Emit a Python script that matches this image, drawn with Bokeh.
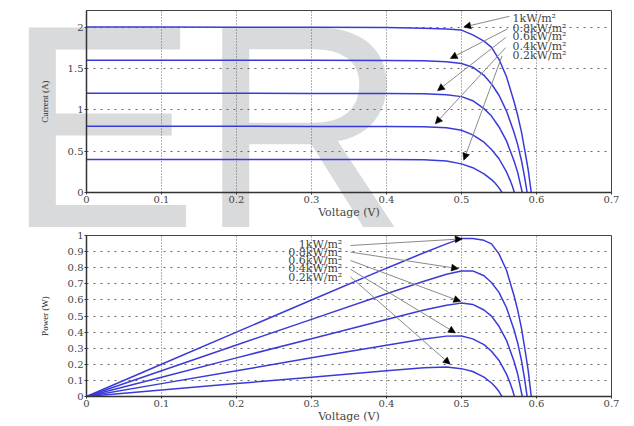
from bokeh.plotting import figure
from bokeh.layouts import column
from bokeh.models import Arrow, NormalHead, Label, FixedTicker, Range1d, Div, InlineStyleSheet
from bokeh.embed import file_html
from bokeh.resources import INLINE

# ---------------- data ----------------
irradiance_labels = ["1kW/m\u00b2", "0.8kW/m\u00b2", "0.6kW/m\u00b2", "0.4kW/m\u00b2", "0.2kW/m\u00b2"]

x_ticks = [0, 0.1, 0.2, 0.3, 0.4, 0.5, 0.6, 0.7]
current_ticks = [0, 0.5, 1, 1.5, 2]
power_ticks = [0, 0.1, 0.2, 0.3, 0.4, 0.5, 0.6, 0.7, 0.8, 0.9, 1]

v_1000 = [0, 0.1, 0.2, 0.3, 0.4, 0.45, 0.48, 0.5, 0.515, 0.53, 0.54, 0.55, 0.56, 0.57, 0.575, 0.58, 0.585, 0.589, 0.593]
i_1000 = [2.0, 2.0, 1.999, 1.997, 1.993, 1.985, 1.975, 1.963, 1.905, 1.83, 1.755, 1.61, 1.40, 1.10, 0.93, 0.73, 0.48, 0.27, 0.0]
p_1000 = [0, 0.2, 0.4, 0.599, 0.797, 0.893, 0.948, 0.982, 0.981, 0.970, 0.948, 0.886, 0.784, 0.627, 0.535, 0.423, 0.281, 0.159, 0.0]

v_800 = [0, 0.1, 0.2, 0.3, 0.4, 0.45, 0.48, 0.5, 0.515, 0.53, 0.54, 0.55, 0.56, 0.57, 0.575, 0.58, 0.584, 0.5875]
i_800 = [1.6, 1.6, 1.599, 1.598, 1.595, 1.592, 1.581, 1.56, 1.515, 1.416, 1.312, 1.176, 0.984, 0.728, 0.576, 0.384, 0.192, 0.0]
p_800 = [0, 0.16, 0.32, 0.479, 0.638, 0.716, 0.759, 0.78, 0.780, 0.750, 0.708, 0.647, 0.551, 0.415, 0.331, 0.223, 0.112, 0.0]

v_600 = [0, 0.1, 0.2, 0.3, 0.4, 0.45, 0.48, 0.5, 0.515, 0.53, 0.54, 0.55, 0.56, 0.57, 0.575, 0.578, 0.581]
i_600 = [1.2, 1.2, 1.199, 1.198, 1.196, 1.194, 1.182, 1.159, 1.11, 1.014, 0.924, 0.792, 0.624, 0.384, 0.24, 0.12, 0.0]
p_600 = [0, 0.12, 0.24, 0.359, 0.478, 0.537, 0.567, 0.58, 0.572, 0.537, 0.499, 0.436, 0.349, 0.219, 0.138, 0.069, 0.0]

v_400 = [0, 0.1, 0.2, 0.3, 0.4, 0.45, 0.48, 0.5, 0.515, 0.53, 0.54, 0.55, 0.56, 0.565, 0.568, 0.5705]
i_400 = [0.8, 0.8, 0.8, 0.799, 0.798, 0.794, 0.782, 0.752, 0.696, 0.608, 0.52, 0.408, 0.248, 0.144, 0.072, 0.0]
p_400 = [0, 0.08, 0.16, 0.24, 0.319, 0.357, 0.375, 0.376, 0.358, 0.322, 0.281, 0.224, 0.139, 0.081, 0.041, 0.0]

v_200 = [0, 0.1, 0.2, 0.3, 0.4, 0.45, 0.48, 0.5, 0.515, 0.53, 0.54, 0.545, 0.55, 0.552, 0.554]
i_200 = [0.4, 0.4, 0.4, 0.4, 0.399, 0.395, 0.382, 0.346, 0.3, 0.226, 0.156, 0.112, 0.056, 0.028, 0.0]
p_200 = [0, 0.04, 0.08, 0.12, 0.16, 0.178, 0.183, 0.173, 0.155, 0.12, 0.084, 0.061, 0.031, 0.015, 0.0]

volts = [v_1000, v_800, v_600, v_400, v_200]
currents = [i_1000, i_800, i_600, i_400, i_200]
powers = [p_1000, p_800, p_600, p_400, p_200]

# ---------------- styling ----------------
LINE = "#3a3ad8"
TXT = "#444444"
SERIF = "DejaVu Serif"


def style(p, yticks, overrides, ylabel):
    p.background_fill_alpha = 0
    p.border_fill_alpha = 0
    p.outline_line_color = "#444444"
    p.outline_line_width = 1
    for ax in (p.xaxis[0], p.yaxis[0]):
        ax.axis_line_color = "#333333"
        ax.axis_line_width = 1.5
        ax.major_tick_line_color = "#333333"
        ax.major_tick_out = 2
        ax.major_tick_in = 0
        ax.minor_tick_line_color = None
        ax.major_label_text_font = SERIF
        ax.major_label_text_font_size = "10px"
        ax.major_label_text_color = TXT
        ax.major_label_standoff = 1
    p.xaxis.ticker = FixedTicker(ticks=x_ticks)
    p.xaxis.major_label_overrides = {0: "0"}
    p.yaxis.ticker = FixedTicker(ticks=yticks)
    p.yaxis.major_label_overrides = overrides
    p.xaxis.axis_label = "Voltage (V)"
    p.xaxis.axis_label_text_font = SERIF
    p.xaxis.axis_label_text_font_size = "11px"
    p.xaxis.axis_label_text_font_style = "normal"
    p.xaxis.axis_label_text_color = TXT
    p.xaxis.axis_label_standoff = 0
    p.yaxis.axis_label = ylabel
    p.yaxis.axis_label_text_font = "Liberation Serif"
    p.yaxis.axis_label_text_font_size = "9px"
    p.yaxis.axis_label_text_font_style = "normal"
    p.yaxis.axis_label_text_color = "#222222"
    p.yaxis.axis_label_standoff = 15
    for g in (p.xgrid[0], p.ygrid[0]):
        g.grid_line_color = "#666666"
    p.xgrid.grid_line_dash = "1 2"
    p.ygrid.grid_line_dash = "2 5"


# ---------------- top: I-V ----------------
top = figure(width=634, height=226, x_range=Range1d(0, 0.7), y_range=Range1d(0, 2.2),
             output_backend="svg", toolbar_location=None,
             min_border_left=86, min_border_right=23, min_border_top=10, min_border_bottom=34)
style(top, current_ticks, {0: "0", 1: "1", 2: "2"}, "Current (A)")

for v, i in zip(volts, currents):
    top.line(v, i, line_color=LINE, line_width=1.5)

top_text_x = 0.568
top_text_y = [2.098, 1.988, 1.882, 1.765, 1.659]
top_arrow_start = [(0.564, 2.13), (0.561, 1.976), (0.559, 1.874), (0.559, 1.752), (0.554, 1.65)]
top_arrow_end = [(0.503, 2.0), (0.485, 1.62), (0.468, 1.23), (0.465, 0.83), (0.503, 0.39)]
for lab, ty, (xs, ys), (xe, ye) in zip(irradiance_labels, top_text_y, top_arrow_start, top_arrow_end):
    top.add_layout(Arrow(end=NormalHead(size=7, fill_color="black", line_color="black", line_width=0.5),
                         x_start=xs, y_start=ys, x_end=xe, y_end=ye,
                         line_color="#8a8a8a", line_width=1))
    top.add_layout(Label(x=top_text_x, y=ty, text=lab, text_font=SERIF, text_font_size="11px",
                         text_color=TXT, text_baseline="middle", text_align="left"))

# ---------------- bottom: P-V ----------------
bot = figure(width=634, height=199, x_range=Range1d(0, 0.7), y_range=Range1d(0, 1.0),
             output_backend="svg", toolbar_location=None,
             min_border_left=86, min_border_right=23, min_border_top=9, min_border_bottom=27)
style(bot, power_ticks, {0: "0", 1: "1"}, "Power (W)")

for v, pw in zip(volts, powers):
    bot.line(v, pw, line_color=LINE, line_width=1.5)

bot_text_x = 0.341
bot_text_y = [0.942, 0.893, 0.842, 0.792, 0.741]
bot_arrow_start = [(0.352, 0.938), (0.352, 0.897), (0.352, 0.845), (0.352, 0.79), (0.352, 0.743)]
bot_arrow_end = [(0.501, 0.979), (0.496, 0.794), (0.499, 0.59), (0.492, 0.395), (0.485, 0.20)]
for lab, ty, (xs, ys), (xe, ye) in zip(irradiance_labels, bot_text_y, bot_arrow_start, bot_arrow_end):
    bot.add_layout(Arrow(end=NormalHead(size=7, fill_color="black", line_color="black", line_width=0.5),
                         x_start=xs, y_start=ys, x_end=xe, y_end=ye,
                         line_color="#8a8a8a", line_width=1))
    bot.add_layout(Label(x=bot_text_x, y=ty, text=lab, text_font=SERIF, text_font_size="11px",
                         text_color=TXT, text_baseline="middle", text_align="right"))

# ---------------- grey "ER" watermark behind both charts ----------------
watermark = Div(
    text=('<div style="font-family:\'Liberation Sans\'; font-size:290px; line-height:290px; '
          'color:#d9dadb; white-space:nowrap; margin:0; padding:0;">ER</div>'),
    width=420, height=300,
    stylesheets=[InlineStyleSheet(css=(
        ":host { position: absolute !important; left: 0px !important; top: -24px !important; "
        "z-index: -1 !important; pointer-events: none; overflow: visible !important; }"))],
)

layout = column(top, bot, watermark, spacing=0)
open("out.html", "w").write(file_html(layout, INLINE))
